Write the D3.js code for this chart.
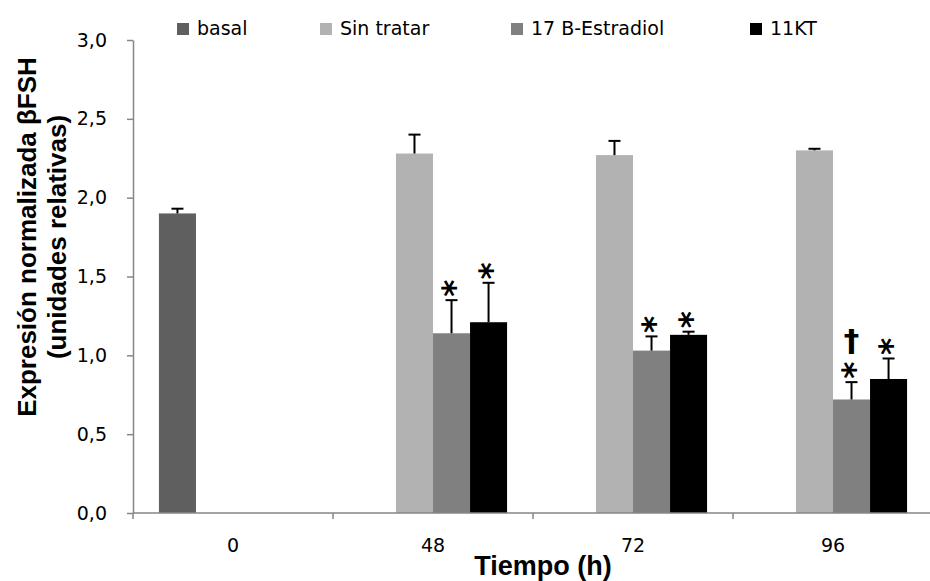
<!DOCTYPE html>
<html>
<head>
<meta charset="utf-8">
<script src="https://cdn.jsdelivr.net/npm/d3@7"></script>
<style>
  body { margin: 0; background: #fff; }
  #chart { width: 930px; height: 581px; }
</style>
</head>
<body>
<div id="chart"></div>
<script>
// data
var categories = ["0", "48", "72", "96"];
var seriesNames = ["basal", "Sin tratar", "17 B-Estradiol", "11KT"];
var seriesColors = ["#5f5f5f", "#b2b2b2", "#808080", "#000000"];

var basal      = [1.90, null, null, null];
var sinTratar  = [null, 2.28, 2.27, 2.30];
var estradiol  = [null, 1.14, 1.03, 0.72];
var kt11       = [null, 1.21, 1.13, 0.85];

var basalErr     = [0.03, null, null, null];
var sinTratarErr = [null, 0.12, 0.09, 0.01];
var estradiolErr = [null, 0.21, 0.09, 0.11];
var kt11Err      = [null, 0.25, 0.02, 0.13];

// significance marks: category, series index, symbols from bottom up
var marks = [
  {cat: "48", s: 2, sym: ["*"]},
  {cat: "48", s: 3, sym: ["*"]},
  {cat: "72", s: 2, sym: ["*"]},
  {cat: "72", s: 3, sym: ["*"]},
  {cat: "96", s: 2, sym: ["*", "\u2020"]},
  {cat: "96", s: 3, sym: ["*"]}
];

var yTicks = [0, 0.5, 1, 1.5, 2, 2.5, 3];

var values = [basal, sinTratar, estradiol, kt11];
var errors = [basalErr, sinTratarErr, estradiolErr, kt11Err];

var data = [];
categories.forEach(function(c, i) {
  seriesNames.forEach(function(s, j) {
    if (values[j][i] != null) {
      data.push({cat: c, s: j, value: values[j][i], err: errors[j][i]});
    }
  });
});

var margin = {top: 40, right: -3, bottom: 68, left: 133},
  width = 930 - margin.left - margin.right,
  height = 581 - margin.top - margin.bottom;

var tickFont = "DejaVu Sans, Verdana, sans-serif";
var boldFont = "Liberation Sans, Arial, sans-serif";

var svg = d3.select("#chart")
  .append("svg")
    .attr("width", 930)
    .attr("height", 581)
  .append("g")
    .attr("transform", "translate(" + margin.left + "," + margin.top + ")");

var x0 = d3.scaleBand()
  .domain(categories)
  .range([0, width])
  .padding(0);

var x1 = d3.scaleBand()
  .domain(d3.range(seriesNames.length))
  .range([0, x0.bandwidth()])
  .paddingInner(0)
  .paddingOuter(0.7);

var y = d3.scaleLinear()
  .domain([0, 3])
  .range([height, 0]);

var locale = d3.formatLocale({decimal: ",", thousands: ".", grouping: [3], currency: ["", ""]});
var fmt = locale.format(".1f");

var axisColor = "#868686";

// y axis
var yAxis = svg.append("g")
  .call(d3.axisLeft(y).tickValues(yTicks).tickFormat(fmt).tickSize(6).tickSizeOuter(0).tickPadding(20));
yAxis.select(".domain").attr("stroke", axisColor).attr("stroke-width", 1.5);
yAxis.selectAll(".tick line").attr("stroke", axisColor).attr("stroke-width", 1.5);
yAxis.selectAll(".tick text")
  .attr("font-family", tickFont)
  .attr("font-size", 19)
  .attr("fill", "#000");

// bars
svg.selectAll(".bar")
  .data(data)
  .enter()
  .append("rect")
    .attr("class", "bar")
    .attr("x", function(d) { return x0(d.cat) + x1(d.s); })
    .attr("y", function(d) { return y(d.value); })
    .attr("width", x1.bandwidth())
    .attr("height", function(d) { return height - y(d.value); })
    .style("fill", function(d) { return seriesColors[d.s]; });

// error bars (upper only)
var errG = svg.selectAll(".err")
  .data(data)
  .enter()
  .append("g")
    .attr("class", "err")
    .attr("transform", function(d) { return "translate(" + (x0(d.cat) + x1(d.s) + x1.bandwidth() / 2) + ",0)"; });
errG.append("line")
  .attr("x1", 0).attr("x2", 0)
  .attr("y1", function(d) { return y(d.value); })
  .attr("y2", function(d) { return y(d.value + d.err); })
  .attr("stroke", "#000").attr("stroke-width", 2);
errG.append("line")
  .attr("x1", -6).attr("x2", 6)
  .attr("y1", function(d) { return y(d.value + d.err); })
  .attr("y2", function(d) { return y(d.value + d.err); })
  .attr("stroke", "#000").attr("stroke-width", 2);

// significance symbols
var starSize = 33;
marks.forEach(function(m) {
  var d = data.find(function(e) { return e.cat === m.cat && e.s === m.s; });
  var cx = x0(d.cat) + x1(d.s) + x1.bandwidth() / 2;
  var top = y(d.value + d.err);
  // asterisk, turned so that one bar lies flat like in the original
  svg.append("g")
    .attr("transform", "translate(" + cx + "," + (top - 12) + ") rotate(90)")
    .append("text")
      .attr("x", 0)
      .attr("y", starSize * 0.58)
      .attr("text-anchor", "middle")
      .attr("font-family", tickFont)
      .attr("font-weight", "bold")
      .attr("font-size", starSize)
      .text(m.sym[0]);
  if (m.sym.length > 1) {
    svg.append("text")
      .attr("x", cx)
      .attr("y", top - 31)
      .attr("text-anchor", "middle")
      .attr("font-family", tickFont)
      .attr("font-weight", "bold")
      .attr("font-size", 31)
      .text(m.sym[1]);
  }
});

// x axis
var xAxis = svg.append("g")
  .attr("transform", "translate(0," + height + ")");
xAxis.append("line")
  .attr("x1", 0).attr("x2", width)
  .attr("stroke", axisColor).attr("stroke-width", 1.5);
xAxis.selectAll(".xtick")
  .data(categories.concat(["end"]))
  .enter()
  .append("line")
    .attr("x1", function(d) { return d === "end" ? width : x0(d); })
    .attr("x2", function(d) { return d === "end" ? width : x0(d); })
    .attr("y1", 0).attr("y2", 6)
    .attr("stroke", axisColor).attr("stroke-width", 1.5);
xAxis.selectAll(".xlab")
  .data(categories)
  .enter()
  .append("text")
    .attr("x", function(d) { return x0(d) + x0.bandwidth() / 2; })
    .attr("y", 39)
    .attr("text-anchor", "middle")
    .attr("font-family", tickFont)
    .attr("font-size", 19)
    .text(function(d) { return d; });

// axis titles
svg.append("text")
  .attr("x", width / 2 + 10)
  .attr("y", height + 62)
  .attr("text-anchor", "middle")
  .attr("font-family", boldFont)
  .attr("font-weight", "bold")
  .attr("font-size", 27)
  .text("Tiempo (h)");

var yTitle = svg.append("text")
  .attr("transform", "translate(" + (36 - margin.left) + "," + (237 - margin.top) + ") rotate(-90)")
  .attr("text-anchor", "middle")
  .attr("font-family", boldFont)
  .attr("font-weight", "bold")
  .attr("font-size", 26);
yTitle.append("tspan").attr("x", 0).attr("dy", 0).text("Expresión normalizada βFSH");
yTitle.append("tspan").attr("x", 0).attr("dy", 30).text("(unidades relativas)");

// legend
var legendX = [177, 320, 511, 750];
var legend = svg.selectAll(".legend")
  .data(seriesNames)
  .enter()
  .append("g")
    .attr("class", "legend")
    .attr("transform", function(d, i) { return "translate(" + (legendX[i] - margin.left) + "," + (-margin.top) + ")"; });
legend.append("rect")
  .attr("x", 0).attr("y", 23)
  .attr("width", 12).attr("height", 12)
  .style("fill", function(d, i) { return seriesColors[i]; });
legend.append("text")
  .attr("x", 20).attr("y", 35)
  .attr("font-family", tickFont)
  .attr("font-size", 19)
  .text(function(d) { return d; });
</script>
</body>
</html>
